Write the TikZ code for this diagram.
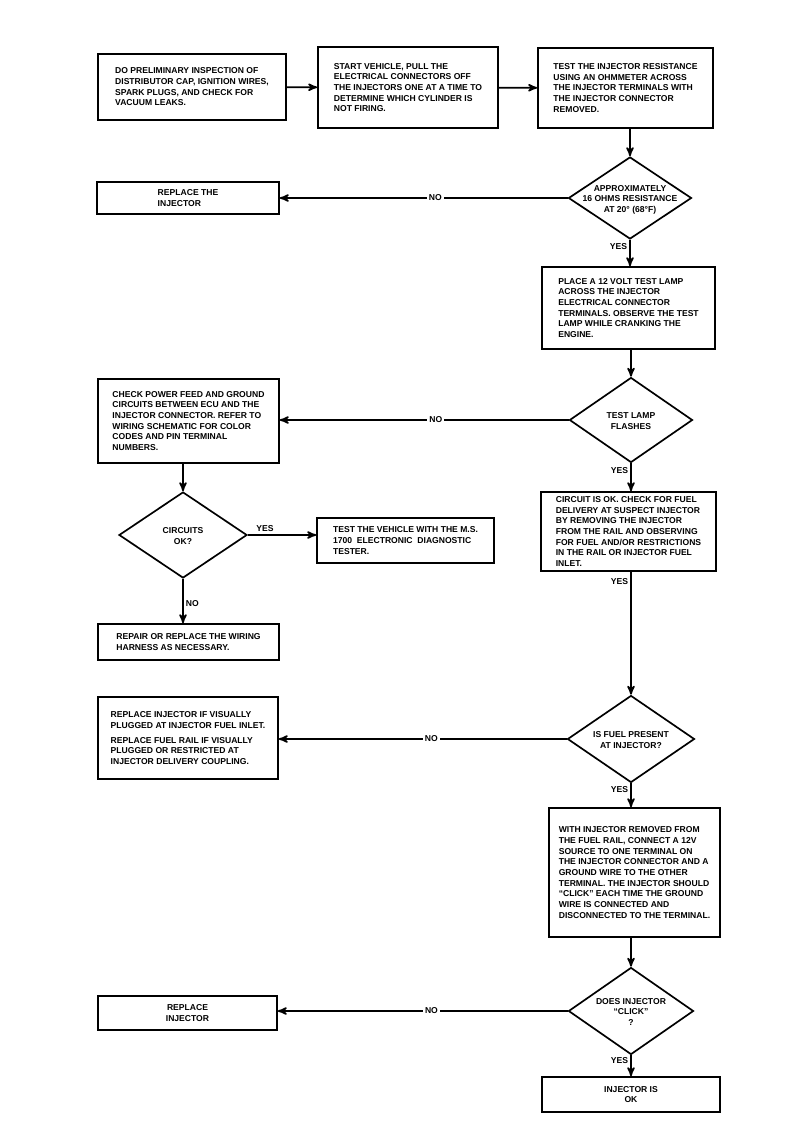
\documentclass[tikz,border=0pt]{standalone}
\usepackage{fontspec}
\setmainfont{Liberation Sans}
\usepackage{tikz}
\usetikzlibrary{arrows,shapes.geometric,calc}
\tikzset{block/.style={draw=black,line width=1.2pt,align=left,inner sep=0pt,
    font=\fontsize{6.1}{7.6}\selectfont\bfseries},
  decision/.style={draw=black,line width=1.2pt,diamond,inner sep=0pt,
    font=\fontsize{6.1}{7.6}\selectfont\bfseries},
  answer/.style={font=\fontsize{6.1}{7.6}\selectfont\bfseries,inner sep=1.5pt}}
% question text of a diamond, kept out of the shape's size
\newcommand{\qtext}[1]{\makebox[0pt]{\raisebox{-2.8pt}[0pt][0pt]{\begin{tabular}{@{}c@{}}#1\end{tabular}}}}

\begin{document}
\begin{tikzpicture}[x=0.025cm, y=-0.025cm, >=stealth', line width=1.2pt]
    \useasboundingbox (0,0) rectangle (784,1126);
    % top row
    \node[block,minimum width=4.7cm,minimum height=1.65cm] (A) at (192,87) {DO PRELIMINARY INSPECTION OF\\DISTRIBUTOR CAP, IGNITION WIRES,\\SPARK PLUGS, AND CHECK FOR\\VACUUM LEAKS.};
    \node[block,minimum width=4.5cm,minimum height=2.025cm] (B) at (408,87.5) {START VEHICLE, PULL THE\\ELECTRICAL CONNECTORS OFF\\THE INJECTORS ONE AT A TIME TO\\DETERMINE WHICH CYLINDER IS\\NOT FIRING.};
    \node[block,minimum width=4.375cm,minimum height=2cm] (C) at (625.5,88) {TEST THE INJECTOR RESISTANCE\\USING AN OHMMETER ACROSS\\THE INJECTOR TERMINALS WITH\\THE INJECTOR CONNECTOR\\REMOVED.};
    \node[decision,minimum width=3.075cm,minimum height=2.05cm] (D1) at (630,198) {\qtext{APPROXIMATELY\\16 OHMS RESISTANCE\\AT 20° (68°F)}};
    \node[block,minimum width=4.55cm,minimum height=0.8cm] (R1) at (188,198) {REPLACE THE\\INJECTOR};
    \node[block,minimum width=4.325cm,minimum height=2.05cm] (E) at (628.5,308) {PLACE A 12 VOLT TEST LAMP\\ACROSS THE INJECTOR\\ELECTRICAL CONNECTOR\\TERMINALS. OBSERVE THE TEST\\LAMP WHILE CRANKING THE\\ENGINE.};
    \node[decision,minimum width=3.075cm,minimum height=2.125cm] (D2) at (631,420) {\qtext{TEST LAMP\\FLASHES}};

    % left branch
    \node[block,minimum width=4.525cm,minimum height=2.1cm] (F) at (188.5,421) {CHECK POWER FEED AND GROUND\\CIRCUITS BETWEEN ECU AND THE\\INJECTOR CONNECTOR. REFER TO\\WIRING SCHEMATIC FOR COLOR\\CODES AND PIN TERMINAL\\NUMBERS.};
    \node[decision,minimum width=3.2cm,minimum height=2.15cm] (D3) at (183,535) {\qtext{CIRCUITS\\OK?}};
    \node[block,minimum width=4.425cm,minimum height=1.125cm] (G) at (405.5,540.5) {TEST THE VEHICLE WITH THE M.S.\\1700 \ ELECTRONIC \ DIAGNOSTIC\\TESTER.};
    \node[block,minimum width=4.525cm,minimum height=0.9cm] (H) at (188.5,642) {REPAIR OR REPLACE THE WIRING\\HARNESS AS NECESSARY.};

    % right column
    \node[block,minimum width=4.375cm,minimum height=1.975cm] (I) at (628.5,531.5) {CIRCUIT IS OK. CHECK FOR FUEL\\DELIVERY AT SUSPECT INJECTOR\\BY REMOVING THE INJECTOR\\FROM THE RAIL AND OBSERVING\\FOR FUEL AND/OR RESTRICTIONS\\IN THE RAIL OR INJECTOR FUEL\\INLET.};
    \node[decision,minimum width=3.175cm,minimum height=2.175cm] (D4) at (631,739) {\qtext{IS FUEL PRESENT\\AT INJECTOR?}};
    \node[block,minimum width=4.5cm,minimum height=2.05cm] (J) at (188,738) {REPLACE INJECTOR IF VISUALLY\\PLUGGED AT INJECTOR FUEL INLET.\\[3pt]REPLACE FUEL RAIL IF VISUALLY\\PLUGGED OR RESTRICTED AT\\INJECTOR DELIVERY COUPLING.};
    \node[block,minimum width=4.275cm,minimum height=3.225cm] (K) at (634.5,872.5) {WITH INJECTOR REMOVED FROM\\THE FUEL RAIL, CONNECT A 12V\\SOURCE TO ONE TERMINAL ON\\THE INJECTOR CONNECTOR AND A\\GROUND WIRE TO THE OTHER\\TERMINAL. THE INJECTOR SHOULD\\“CLICK” EACH TIME THE GROUND\\WIRE IS CONNECTED AND\\DISCONNECTED TO THE TERMINAL.};
    \node[decision,minimum width=3.125cm,minimum height=2.175cm] (D5) at (631,1011) {\qtext{DOES INJECTOR\\“CLICK”\\?}};
    \node[block,align=center,minimum width=4.475cm,minimum height=0.85cm] (R2) at (187.5,1013) {REPLACE\\INJECTOR};
    \node[block,align=center,minimum width=4.45cm,minimum height=0.875cm] (L) at (631,1094.5) {INJECTOR IS\\OK};

    % connectors
    \path[->] (A) edge (B);
    \path[->] (B) edge (C);
    \path[->] (C.south -| D1.north) edge (D1.north);
    \path[->] (D1.west) edge node[answer,pos=0.46,fill=white] {NO} (D1.west -| R1.east);
    \path[->] (D1.south) edge node[answer,pos=0.25,left] {YES} (D1.south |- E.north);
    \path[->] (E.south -| D2.north) edge (D2.north);
    \path[->] (D2.west) edge node[answer,pos=0.46,fill=white] {NO} (D2.west -| F.east);
    \path[->] (D2.south) edge node[answer,pos=0.25,left] {YES} (D2.south |- I.north);
    \path[->] (F.south -| D3.north) edge (D3.north);
    \path[->] (D3.east) edge node[answer,pos=0.25,above] {YES} (D3.east -| G.west);
    \path[->] (D3.south) edge node[answer,pos=0.55,right] {NO} (D3.south |- H.north);
    \path[->] (I.south -| D4.north) edge node[answer,pos=0.08,left] {YES} (D4.north);
    \path[->] (D4.west) edge node[answer,pos=0.47,fill=white] {NO} (D4.west -| J.east);
    \path[->] (D4.south) edge node[answer,pos=0.25,left] {YES} (D4.south |- K.north);
    \path[->] (K.south -| D5.north) edge (D5.north);
    \path[->] (D5.west) edge node[answer,pos=0.47,fill=white] {NO} (D5.west -| R2.east);
    \path[->] (D5.south) edge node[answer,pos=0.25,left] {YES} (D5.south |- L.north);
\end{tikzpicture}
\end{document}
